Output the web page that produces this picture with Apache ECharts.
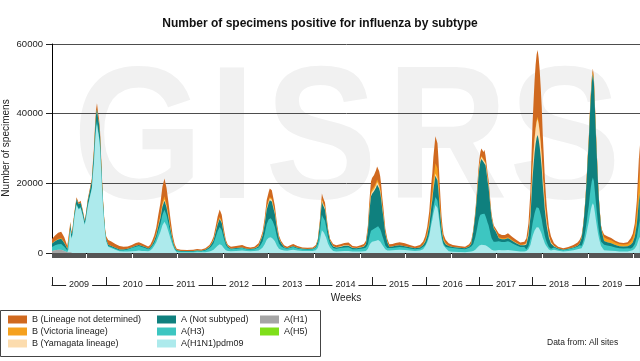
<!DOCTYPE html>
<html><head><meta charset="utf-8">
<script src="https://cdn.jsdelivr.net/npm/echarts@6/dist/echarts.min.js"></script>
<style>html,body{margin:0;padding:0;background:#fff}#c{width:640px;height:361px}</style>
</head><body><div id="c"></div>
<script>
// week index counted from ISO week 1 of 2009
const weeks = [
  0,3,6,9,12,15,
  16,18,19,20,
  22,24,26,28,30,32,33,35,37,39,40,41,42,43,44,45,46,47,48,49,50,51,52,53,
  55,58,62,66,70,74,78,82,85,88,91,94,96,98,
  100,102,104,106,108,110,112,114,116,118,120,
  122,126,132,138,142,146,150,154,156,
  158,160,162,164,166,168,170,172,
  175,180,186,190,194,198,200,202,
  204,206,208,210,212,213,214,215,216,218,220,222,224,
  227,230,234,236,240,245,250,255,258,
  260,262,263,264,265,266,267,268,270,272,
  275,278,282,286,290,294,298,302,305,307,
  309,310,311,312,313,315,317,318,319,320,321,322,323,324,326,328,
  330,333,336,340,345,350,355,360,363,
  365,367,369,371,372,373,374,375,376,377,378,379,380,381,382,383,385,
  388,392,398,404,408,410,
  412,414,415,416,417,418,419,420,421,422,423,424,425,426,427,428,429,430,432,434,
  437,440,443,446,448,450,454,458,462,
  464,466,468,469,470,471,472,473,474,475,476,477,478,479,480,481,482,483,484,486,488,
  491,495,500,505,510,514,516,
  518,519,520,521,522,523,524,525,526,527,528,529,530,531,532,533,534,535,536,537,538,
  540,543,547,551,555,559,563,
  566,568,570,572,573,574,575
];
const h1 = [600,800,900,900,600,200, 100,200,100,0];
const h5 = [];
const pdm = [
  0,0,0,0,0,0,
  800,6500,4000,5200,
  10300,13800,12500,12900,10700,8100,9500,13300,15900,18500,22400,25800,31000,35300,37000,34800,33100,30100,24100,18000,12800,8800,5500,3400,
  1800,1400,900,500,400,400,500,600,700,600,600,500,700,1200,
  2100,3100,4600,6000,8000,9000,7900,6000,4000,2200,900,
  200,150,150,150,200,200,250,450,650,
  900,1500,2100,2500,2200,1400,800,600,
  500,600,700,550,500,550,650,750,
  1050,1550,2500,3800,4400,4600,4550,4500,4100,3400,2100,1250,900,
  750,650,850,900,700,550,550,550,800,
  1500,3600,5150,6500,6100,5800,5500,4550,2650,1500,
  550,450,500,600,600,400,400,450,500,600,
  1200,1950,2550,3100,3200,3350,3550,3700,3700,3500,3300,2900,2400,2000,1050,700,
  750,800,850,950,850,700,550,700,1100,
  1950,3100,4900,8200,9450,11300,12500,13750,13900,12900,11050,8600,6350,4300,3050,2150,1400,
  500,350,300,250,350,400,
  550,950,1250,1550,1900,2150,2300,2400,2350,2300,2350,2250,2050,1850,1700,1400,1100,900,700,700,
  850,800,800,850,800,700,550,450,450,
  550,1100,2350,3650,4800,5650,6450,7000,7400,7600,7300,6850,6200,5450,4400,3650,2800,2200,1700,1000,700,
  900,650,450,600,800,1050,1250,
  1350,1900,2550,3500,4600,5950,7550,8900,10800,12400,13650,14300,13650,11600,9450,7550,5650,4200,3100,2000,1500,
  800,700,650,550,450,450,450,
  650,800,1300,2250,3150,4050,4650
];
const h3 = [
  1100,1400,1600,1700,1200,500,
  300,300,300,200,
  300,300,300,300,300,200,200,300,400,400,500,600,700,800,900,800,800,700,600,400,300,300,200,200,
  200,300,300,300,400,600,900,1200,1300,1100,800,600,600,800,
  800,1200,1800,2300,3000,3400,3000,2300,1500,800,400,
  400,300,250,300,400,300,450,900,1300,
  1900,3000,4200,5000,4400,2800,1500,900,
  550,600,700,550,500,550,700,850,
  1250,1850,3000,4550,5300,5550,5450,5400,4950,4050,2550,1500,1050,
  650,550,700,800,600,500,450,500,700,
  1050,2450,3500,4450,4150,3950,3750,3100,1800,1050,
  900,750,900,1000,1050,700,650,750,850,1000,
  1300,2100,2750,3300,3450,3600,3800,4000,4000,3750,3500,3100,2550,2150,1100,700,
  650,650,750,800,700,600,500,550,700,
  350,500,850,1400,1600,1900,2150,2350,2350,2200,1900,1450,1100,750,550,400,400,
  1100,1050,900,800,1150,1500,
  2000,3600,4650,5850,7150,8100,8700,9000,8850,8700,8900,8400,7700,6900,6300,5250,4200,3300,2500,2500,
  2500,2350,2350,2550,2350,2100,1700,1300,1300,
  450,850,1800,2800,3700,4350,4950,5400,5700,5850,5600,5250,4750,4200,3400,2800,2150,1700,1300,750,550,
  700,450,350,450,600,750,950,
  700,1000,1350,1800,2400,3100,3900,4600,5600,6450,7050,7400,7050,6000,4900,3900,2950,2150,1600,1300,1300,
  1600,1450,1300,1050,900,850,900,
  650,850,1250,2250,3150,4050,4650
];
const ns = [
  1000,1200,1400,1500,1100,500,
  600,1300,1000,1000,
  900,1300,1200,1200,1000,800,900,1300,1500,1700,2100,2400,2900,3300,3400,3200,3100,2800,2200,1700,1200,800,500,400,
  400,300,300,200,200,200,200,300,300,300,300,200,300,400,
  600,900,1300,1700,2300,2600,2200,1700,1100,600,300,
  200,150,150,150,150,150,200,400,600,
  800,1350,1900,2250,2000,1250,700,400,
  200,200,200,150,150,200,250,350,
  1150,1650,2700,4100,4750,5000,4900,4850,4450,3650,2300,1350,900,
  250,150,250,250,200,150,150,150,250,
  900,2100,2950,3750,3500,3350,3200,2650,1550,900,
  400,350,350,450,450,300,300,350,450,900,
  3850,6250,8200,9850,10300,10750,11450,11900,11900,11300,10550,9350,7700,6400,3350,1600,
  350,400,450,450,400,350,300,350,500,
  850,1350,2150,3600,4150,4950,5500,6050,6100,5700,4850,3800,2800,1900,1350,950,700,
  400,350,300,300,400,700,
  3400,6250,8050,10150,12400,14050,15100,15600,15350,15100,15400,14550,13350,11950,10900,9100,7300,5700,3900,3000,
  850,800,800,850,800,700,550,450,500,
  1450,3000,6300,9800,12950,15200,17300,18900,19950,20400,19600,18350,16600,14700,11900,9800,7500,5950,4550,2600,1500,
  300,200,150,150,200,300,450,
  2250,3500,5050,7100,9350,12250,15700,18500,22400,25800,28300,29700,28300,24100,19600,15700,11750,8650,6450,4200,3000,
  1050,950,850,700,600,600,600,
  1050,1400,2100,3750,5250,6750,7750
];
const yam = [
  0,0,0,0,0,0,
  0,0,0,0,
  0,0,0,0,0,0, 0,0,0,0,0,0, 0,0,0,0,0,0, 0,0,0,0,0,0,
  0,0,0,0,0,0,0, 0,0,0,0,0,0,0,
  100,100,200,300,400,400,400,300,200,100,0,
  0,0,0,0,0,0,0,50,50,
  100,150,200,250,200,150,100,50,
  0,0,0,0,0,0,50,50,
  100,200,300,450,500,550,550,550,500,400,250,150,100,
  0,0,0,0,0,0,0,0,50,
  100,300,400,500,500,450,450,350,200,100,
  100,100,150,150,150,100,100,100,100,100,
  250,400,500,600,650,650,700,750,750,700,650,600,500,400,200,100,
  0,0,0,0,0,0,0,0,50,
  100,150,250,400,450,550,600,650,700,650,550,400,300,200,150,100,100,
  0,0,0,0,0,50,
  150,250,300,400,500,550,600,600,600,600,600,550,500,450,400,350,300,200,150,100,
  0,0,0,0,0,0,50,50,100,
  350,700,1450,2250,2950,3500,3950,4300,4550,4650,4500,4200,3800,3350,2700,2250,1700,1350,1050,600,350,
  100,0,0,0,0,0,0,
  50,50,50,50,100,100,150,150,200,250,250,300,250,200,200,150,100,100,50,50,50,
  0,0,0,0,0,0,0,
  0,0,50,50,100,100,150
];
const vic = [
  100,100,200,200,200,100,
  0,0,0,0,
  0,0,0,0,0,0, 0,0,0,0,0,0, 0,0,0,0,0,0, 0,0,0,0,0,0,
  0,0,0,0,0,0,0, 0,0,0,0,0,0,0,
  200,300,400,600,800,900,700,600,400,200,100,
  0,0,0,0,0,0,50,50,100,
  150,200,300,400,300,200,100,50,
  0,0,0,0,0,0,50,100,
  100,150,200,300,350,400,350,350,350,250,200,100,100,
  0,0,0,0,0,0,0,0,0,
  100,200,300,350,300,300,300,250,150,100,
  0,0,0,0,0,0,0,0,50,100,
  250,400,500,600,650,650,700,750,750,700,650,600,450,400,200,100,
  0,0,0,0,0,0,0,50,150,
  450,700,1100,1800,2050,2450,2750,3000,3050,2850,2450,1900,1400,950,700,500,300,
  100,0,0,0,0,50,
  50,100,150,200,250,250,300,300,300,300,300,300,250,250,200,200,150,100,100,100,
  300,250,250,300,250,250,200,150,150,
  50,100,200,300,350,450,500,550,550,600,550,550,500,400,350,300,200,200,150,100,50,
  0,0,0,0,0,50,50,
  100,100,100,150,150,200,250,300,400,450,500,500,500,450,350,300,200,150,100,150,300,
  1050,950,850,700,600,550,650,
  850,1100,1700,3000,4200,5400,6200
];
const bnd = [
  1200,1500,1700,1800,1400,700,
  700,700,600,600,
  500,600,500,600,500,400,400,600,700,900,1000,1200,1400,1600,1700,1700,1500,1400,1100,900,700,600,600,800,
  1300,1300,1100,1000,800,700,700,800,800,700,600,600,700,1100,
  1200,1700,2700,3400,4500,5100,4500,3400,2300,1300,800,
  400,300,300,300,400,350,400,450,600,
  850,1300,1800,2100,1900,1200,600,400,
  550,600,700,550,450,500,600,700,
  550,800,1300,2000,2300,2400,2400,2350,2150,1750,1100,650,450,
  550,450,600,650,500,400,350,400,500,
  350,850,1200,1550,1450,1350,1300,1100,650,350,
  650,550,600,700,750,500,450,550,650,800,
  1150,1900,2600,3050,3250,3400,3600,3700,3700,3550,3350,2950,2400,1950,1100,800,
  750,750,850,900,850,650,550,650,800,
  1100,1700,2750,4600,5300,6350,7000,7700,7800,7200,6200,4850,3550,2400,1700,1200,900,
  700,550,500,450,600,800,
  450,850,1100,1350,1600,1900,2000,2100,2050,2000,2050,1950,1850,1600,1500,1200,950,800,650,600,
  1100,1000,1000,1150,1000,950,750,600,700,
  1350,2750,5900,9200,12250,14350,16350,17850,18850,19200,18450,17300,15650,13900,11250,9200,7150,5600,4250,2450,1650,
  800,500,400,500,700,850,1000,
  550,450,400,400,400,400,450,550,600,650,750,800,750,650,500,400,350,250,200,300,450,
  800,750,650,500,450,450,500,
  1000,1350,2100,3700,5150,6650,7600
];
const yearStarts = [0,53,105,157,209,261,313,366,418,470,522,574];
const yearLabels = ['2009','2010','2011','2012','2013','2014','2015','2016','2017','2018','2019'];
const yTicks = [0,20000,40000,60000];

[['pdm',pdm],['h3',h3],['ns',ns],['yam',yam],['vic',vic],['bnd',bnd]].forEach(([n,a])=>{
  if (a.length !== weeks.length) console.error('length mismatch', n, a.length, weeks.length);
});

const FONT = '"Liberation Sans", Arial, sans-serif';
const yearMids = yearLabels.map((_, i) => (yearStarts[i] + yearStarts[i+1]) / 2);
// layers from bottom to top
const defs = [
  ['A(H1)', h1, '#a5a5a5'],
  ['A(H5)', h5, '#7fdf1a'],
  ['A(H1N1)pdm09', pdm, '#adeaec'],
  ['A(H3)', h3, '#3dc6c1'],
  ['A (Not subtyped)', ns, '#0f807e'],
  ['B (Yamagata lineage)', yam, '#fcdcae'],
  ['B (Victoria lineage)', vic, '#f5a11e'],
  ['B (Lineage not determined)', bnd, '#d0691f']
];
// cumulative stack tops (value axis stacking is done here, drawn from the axis origin)
const running = weeks.map(() => 0);
const series = defs.map(([name, arr, color], k) => {
  const data = weeks.map((w, i) => {
    running[i] += (arr[i] || 0);
    return [w, running[i]];
  });
  return {
    name, type: 'line', data: arr.length ? data : [],
    z: 20 - k, symbol: 'none', showSymbol: false, silent: true,
    lineStyle: { width: 0 }, itemStyle: { color },
    areaStyle: { color, opacity: 1, origin: 'start' }
  };
});

const legendBase = {
  orient: 'vertical', top: 315, itemWidth: 19, itemHeight: 8, itemGap: 3,
  icon: 'rect', selectedMode: false, padding: 0,
  textStyle: { fontSize: 9, color: '#222', fontFamily: FONT }
};

const wm = [['G',138],['I',232],['S',321],['R',447],['S',565]].map(([ch, cx]) => ({
  type: 'text', x: cx, y: 146, scaleX: 0.88, z: -10, silent: true,
  style: { text: ch, x: 0, y: 0, align: 'center', verticalAlign: 'middle',
    font: 'bold 190px "Liberation Sans", Arial, sans-serif', fill: '#f1f1f1' }
}));

const chart = echarts.init(document.getElementById('c'), null, { renderer: 'canvas' });
chart.setOption({
  animation: false,
  backgroundColor: '#fff',
  textStyle: { fontFamily: FONT },
  title: {
    text: 'Number of specimens positive for influenza by subtype',
    left: 'center', top: 13,
    textStyle: { fontSize: 12, fontWeight: 'bold', color: '#111', fontFamily: FONT }
  },
  grid: { left: 52, top: 44, width: 593, height: 209, outerBoundsMode: 'none', containLabel: false },
  xAxis: [{
    type: 'value', min: 0, max: 580, interval: 1,
    axisLine: { show: true, lineStyle: { color: '#000', width: 1 } },
    axisTick: { show: true, length: 5, lineStyle: { color: '#555', width: 1 } },
    axisLabel: { show: false }, splitLine: { show: false }
  }, {
    type: 'value', min: 0, max: 580, position: 'bottom', offset: 32,
    axisLine: { show: true, lineStyle: { color: '#222', width: 1 } },
    axisTick: { show: true, inside: true, length: 8, customValues: yearStarts,
      lineStyle: { color: '#222', width: 1 } },
    axisLabel: { show: true, customValues: yearMids, margin: 0, verticalAlign: 'middle',
      backgroundColor: '#fff', padding: [1, 3], fontSize: 9, color: '#222', fontFamily: FONT,
      formatter: v => { const i = yearMids.indexOf(v); return i >= 0 ? yearLabels[i] : ''; } },
    splitLine: { show: false }
  }],
  yAxis: {
    type: 'value', min: yTicks[0], max: yTicks[yTicks.length-1], interval: 20000,
    axisLine: { show: true, lineStyle: { color: '#000', width: 1 } },
    axisTick: { show: true, length: 6, lineStyle: { color: '#222' } },
    axisLabel: { margin: 9, fontSize: 9.5, color: '#222', fontFamily: FONT, formatter: v => String(v) },
    splitLine: { show: true, lineStyle: { color: '#4d4d4d', width: 1 } }
  },
  legend: [
    Object.assign({}, legendBase, { left: 8, data: ['B (Lineage not determined)','B (Victoria lineage)','B (Yamagata lineage)'] }),
    Object.assign({}, legendBase, { left: 157, data: ['A (Not subtyped)','A(H3)','A(H1N1)pdm09'] }),
    Object.assign({}, legendBase, { left: 260, data: ['A(H1)','A(H5)'] })
  ],
  graphic: wm.concat([
    { type: 'rect', silent: true, shape: { x: 0.5, y: 310.5, width: 320, height: 46 },
      style: { fill: 'none', stroke: '#444', lineWidth: 1 } },
    { type: 'text', x: 6, y: 148, rotation: Math.PI / 2, silent: true,
      style: { text: 'Number of specimens', align: 'center', verticalAlign: 'middle',
        font: '10px "Liberation Sans", Arial, sans-serif', fill: '#222' } },
    { type: 'text', x: 346, y: 298, silent: true,
      style: { text: 'Weeks', align: 'center', verticalAlign: 'middle',
        font: '10px "Liberation Sans", Arial, sans-serif', fill: '#222' } },
    { type: 'text', x: 547, y: 343, silent: true,
      style: { text: 'Data from: All sites', align: 'left', verticalAlign: 'middle',
        font: '8.5px "Liberation Sans", Arial, sans-serif', fill: '#222' } }
  ]),
  series
});
</script>
</body></html>
